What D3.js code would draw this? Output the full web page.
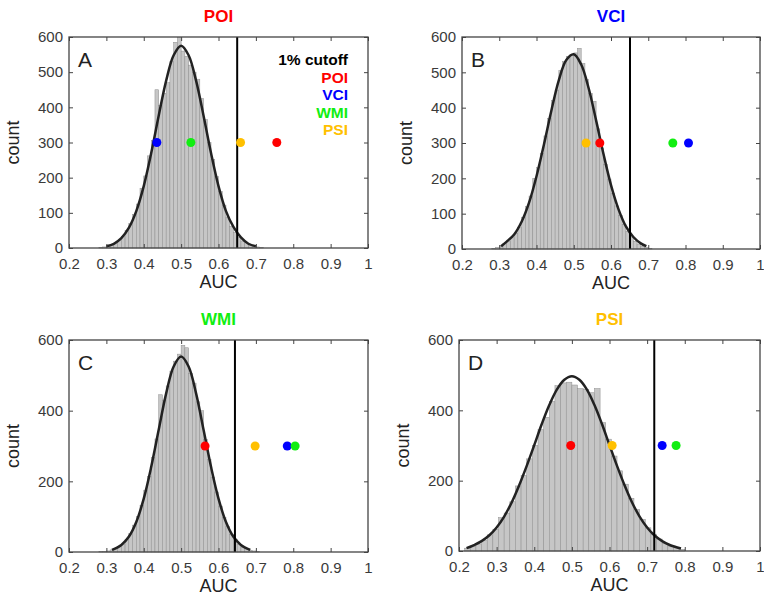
<!DOCTYPE html>
<html>
<head>
<meta charset="utf-8">
<script src="https://cdnjs.cloudflare.com/ajax/libs/d3/7.8.5/d3.min.js"></script>
<style>
body { margin: 0; background: #fff; }
svg { font-family: "Liberation Sans", Arial, Helvetica, sans-serif; }
</style>
</head>
<body>
<script>
// networks, in the order of the legend
var networks = ["POI", "VCI", "WMI", "PSI"];
var netColors = ["#ff0000", "#0000ff", "#11ee11", "#ffc000"];
var letters = ["A", "B", "C", "D"];

var xTicks = [0.2, 0.3, 0.4, 0.5, 0.6, 0.7, 0.8, 0.9, 1];
var xTickLabels = ["0.2", "0.3", "0.4", "0.5", "0.6", "0.7", "0.8", "0.9", "1"];
var yTicksTop = [0, 100, 200, 300, 400, 500, 600];
var yTicksBottom = [0, 200, 400, 600];

// histogram bins (left edge of first bin, bin width)
var binStart = [0.28, 0.28, 0.28, 0.215];
var binWidth = [0.01, 0.01, 0.01, 0.015];

var countsA = [1, 3, 5, 9, 14, 22, 32, 50, 70, 95, 125, 170, 205, 262, 305, 450, 405, 440, 470, 530, 585, 598, 560, 545,
  520, 500, 480, 425, 365, 300, 252, 203, 160, 122, 88, 62, 44, 30, 20, 12, 8, 5, 3, 1];
var countsB = [2, 5, 9, 15, 22, 32, 45, 62, 90, 120, 150, 200, 230, 270, 320, 370, 420, 450, 505, 530, 545, 548, 555,
  568, 525, 480, 440, 418, 340, 285, 240, 198, 158, 122, 95, 70, 50, 34, 22, 14, 8, 5, 2];
var countsC = [1, 2, 3, 6, 9, 15, 22, 35, 52, 76, 100, 132, 175, 214, 268, 320, 445, 430, 470, 512, 540, 560, 585, 578,
  505, 478, 425, 400, 318, 262, 212, 170, 130, 98, 72, 50, 35, 22, 14, 9, 5, 3, 1];
var countsD = [8, 14, 20, 30, 46, 62, 95, 108, 140, 185, 215, 262, 300, 345, 380, 425, 470, 478, 480, 472, 462, 460,
  450, 462, 365, 318, 270, 228, 190, 150, 118, 90, 66, 48, 34, 22, 14, 9, 5];

// fitted curves [AUC, count]
var curveA = [[0.30, 5], [0.32, 12], [0.34, 28], [0.36, 57], [0.38, 105], [0.40, 176], [0.42, 270], [0.44, 376],
  [0.46, 476], [0.48, 548], [0.50, 575], [0.52, 548], [0.54, 476], [0.56, 376], [0.58, 270], [0.60, 176],
  [0.62, 105], [0.64, 60], [0.66, 30], [0.68, 12], [0.70, 5]];
var curveB = [[0.305, 8], [0.32, 21], [0.34, 41], [0.36, 77], [0.38, 131], [0.40, 206], [0.42, 296], [0.44, 392],
  [0.46, 478], [0.48, 535], [0.50, 551], [0.52, 522], [0.54, 455], [0.56, 364], [0.58, 268], [0.60, 181],
  [0.62, 113], [0.64, 64], [0.66, 34], [0.68, 16], [0.695, 8]];
var curveC = [[0.315, 6], [0.34, 20], [0.36, 43], [0.38, 85], [0.40, 151], [0.42, 241], [0.44, 346], [0.46, 449],
  [0.48, 525], [0.50, 553], [0.52, 525], [0.54, 449], [0.56, 346], [0.58, 241], [0.60, 151], [0.62, 85],
  [0.64, 43], [0.66, 20], [0.685, 6]];
var curveD = [[0.22, 8], [0.24, 17], [0.26, 28], [0.28, 44], [0.30, 67], [0.32, 98], [0.34, 138], [0.36, 187],
  [0.38, 242], [0.40, 301], [0.42, 361], [0.44, 415], [0.46, 459], [0.48, 487], [0.50, 497], [0.52, 487],
  [0.54, 459], [0.56, 415], [0.58, 361], [0.60, 301], [0.62, 242], [0.64, 187], [0.66, 138], [0.68, 98],
  [0.70, 67], [0.72, 44], [0.74, 28], [0.76, 17], [0.79, 7]];

// 1% cutoff per panel
var cutoffs = [0.650, 0.651, 0.644, 0.719];

// observed AUC of each network (POI, VCI, WMI, PSI), drawn at count 300
var aucA = [0.756, 0.435, 0.526, 0.659];
var aucB = [0.570, 0.808, 0.766, 0.533];
var aucC = [0.564, 0.784, 0.805, 0.698];
var aucD = [0.497, 0.740, 0.777, 0.607];
var dotCount = 300;

var allCounts = [countsA, countsB, countsC, countsD];
var allCurves = [curveA, curveB, curveC, curveD];
var allAuc = [aucA, aucB, aucC, aucD];

var boxes = [
  {x: 69, y: 37, w: 299, h: 211},
  {x: 462, y: 37, w: 298, h: 212},
  {x: 69, y: 340, w: 299, h: 212},
  {x: 459, y: 340, w: 301, h: 211}
];

var svg = d3.select("body").append("svg").attr("width", 764).attr("height", 600);

function panel(k) {
  var b = boxes[k];
  var g = svg.append("g").attr("transform", "translate(" + b.x + "," + b.y + ")");
  var xs = d3.scaleLinear().domain([0.2, 1]).range([0, b.w]);
  var ys = d3.scaleLinear().domain([0, 600]).range([b.h, 0]);
  var yT = k < 2 ? yTicksTop : yTicksBottom;

  // bars
  g.selectAll("rect.bar").data(allCounts[k]).enter().append("rect")
    .attr("class", "bar")
    .attr("x", function(d, i) { return xs(binStart[k] + i * binWidth[k]); })
    .attr("width", function(d, i) { return xs(binStart[k] + (i + 1) * binWidth[k]) - xs(binStart[k] + i * binWidth[k]); })
    .attr("y", function(d) { return ys(d); })
    .attr("height", function(d) { return ys(0) - ys(d); })
    .attr("fill", "#c6c6c6").attr("stroke", "#8e8e8e").attr("stroke-width", 0.5);

  // fitted curve
  var line = d3.line()
    .x(function(d) { return xs(d[0]); })
    .y(function(d) { return ys(d[1]); })
    .curve(d3.curveCatmullRom);
  g.append("path").datum(allCurves[k]).attr("d", line)
    .attr("fill", "none").attr("stroke", "#222").attr("stroke-width", 2.5);

  // cutoff
  g.append("line").attr("x1", xs(cutoffs[k])).attr("x2", xs(cutoffs[k]))
    .attr("y1", ys(0)).attr("y2", ys(600)).attr("stroke", "#000").attr("stroke-width", 2);

  // network dots
  g.selectAll("circle").data(allAuc[k]).enter().append("circle")
    .attr("cx", function(d) { return xs(d); })
    .attr("cy", ys(dotCount)).attr("r", 4.5)
    .attr("fill", function(d, i) { return netColors[i]; });

  // axes, ticks inside on all four sides
  g.append("g").attr("transform", "translate(0," + b.h + ")")
    .call(d3.axisBottom(xs).tickValues(xTicks).tickFormat(function(d, i) { return xTickLabels[i]; })
      .tickSize(-4).tickSizeOuter(0).tickPadding(10));
  g.append("g").call(d3.axisTop(xs).tickValues(xTicks).tickFormat("").tickSize(-4).tickSizeOuter(0));
  g.append("g")
    .call(d3.axisLeft(ys).tickValues(yT).tickSize(-4).tickSizeOuter(0).tickPadding(6));
  g.append("g").attr("transform", "translate(" + b.w + ",0)")
    .call(d3.axisRight(ys).tickValues(yT).tickFormat("").tickSize(-4).tickSizeOuter(0));
  g.selectAll(".domain").remove();
  g.selectAll(".tick line").attr("stroke", "#444");
  g.selectAll(".tick text").attr("fill", "#3a3a3a").style("font-size", "15px")
    .style("font-family", "'Liberation Sans', Arial, sans-serif");

  g.append("rect").attr("width", b.w).attr("height", b.h)
    .attr("fill", "none").attr("stroke", "#444").attr("stroke-width", 1.3);

  // labels
  g.append("text").attr("x", b.w / 2).attr("y", b.h + 40).attr("text-anchor", "middle")
    .attr("fill", "#222").style("font-size", "18px").text("AUC");
  g.append("text").attr("transform", "translate(-50," + (b.h / 2) + ") rotate(-90)")
    .attr("text-anchor", "middle").attr("fill", "#222").style("font-size", "18px").text("count");
  g.append("text").attr("x", b.w / 2).attr("y", -15).attr("text-anchor", "middle")
    .attr("fill", netColors[k]).style("font-size", "17px").style("font-weight", "bold").text(networks[k]);
  g.append("text").attr("x", 9).attr("y", 30).attr("fill", "#222")
    .style("font-size", "21px").text(letters[k]);

  if (k == 0) {
    var lg = g.append("g").attr("text-anchor", "end")
      .style("font-size", "15.5px").style("font-weight", "bold");
    lg.append("text").attr("x", b.w - 20).attr("y", 28).attr("fill", "#000").text("1% cutoff");
    lg.selectAll("text.net").data(networks).enter().append("text")
      .attr("class", "net")
      .attr("x", b.w - 20)
      .attr("y", function(d, i) { return 28 + (i + 1) * 17.5; })
      .attr("fill", function(d, i) { return netColors[i]; })
      .text(function(d) { return d; });
  }
}

for (var k = 0; k < 4; k++) panel(k);
</script>
</body>
</html>
